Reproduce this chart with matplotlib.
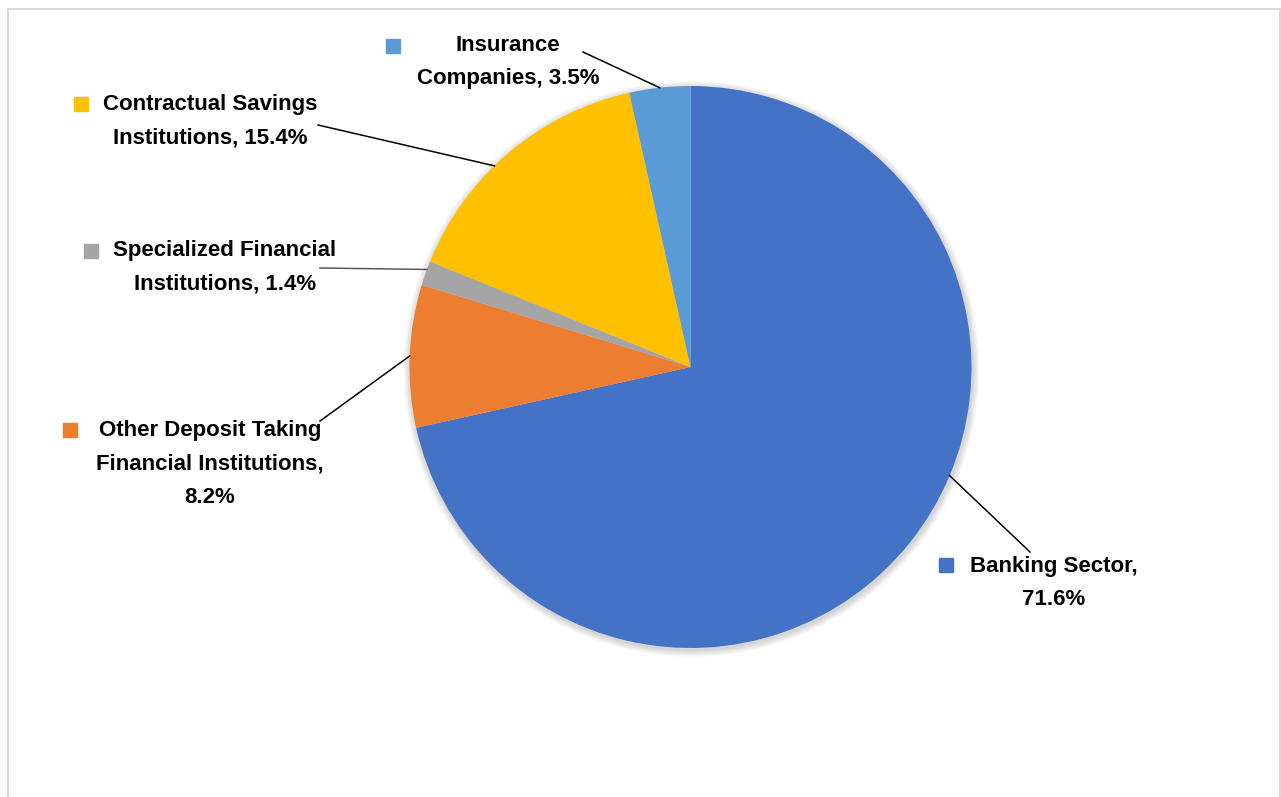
import numpy as np
import matplotlib
matplotlib.use('Agg')
import matplotlib.pyplot as plt
from matplotlib.patches import Circle, Rectangle

# data
categories = ['Banking Sector', 'Other Deposit Taking\nFinancial Institutions',
              'Specialized Financial\nInstitutions', 'Contractual Savings\nInstitutions',
              'Insurance\nCompanies']
shares = [71.6, 8.2, 1.4, 15.4, 3.5]
label_texts = ['Banking Sector,\n71.6%', 'Other Deposit Taking\nFinancial Institutions,\n8.2%',
               'Specialized Financial\nInstitutions, 1.4%', 'Contractual Savings\nInstitutions, 15.4%',
               'Insurance\nCompanies, 3.5%']
colors = ['#4472C4', '#ED7D31', '#A5A5A5', '#FFC000', '#5B9BD5']

W, H = 1281, 797
CX, CY, R = 690.5, 367, 281

# label layout in pixel coords (top-left origin):
# text centre, marker pos, leader start, angle nudge on the wedge
layout = [
    dict(text=(1054, 583), marker=(946, 565), start=(1030, 552), nudge=16),
    dict(text=(210, 464), marker=(70, 430), start=(320, 421), nudge=0),
    dict(text=(225, 267), marker=(91, 251), start=(320, 268), nudge=-0.8),
    dict(text=(210, 121), marker=(81, 104), start=(318, 125), nudge=4),
    dict(text=(508, 62), marker=(393, 46), start=(583, 52), nudge=0),
]
line_colors = ['black', 'black', '#595959', 'black', 'black']


def Y(y):
    return H - y


fig = plt.figure(figsize=(W / 100, H / 100), dpi=100)
ax = fig.add_axes([0, 0, 1, 1])

# soft shadow round the pie
for k in range(1, 8):
    ax.add_patch(Circle((CX + 1, Y(CY) - 2), R + k, color='black', alpha=0.025, lw=0, zorder=0))

wedges, _ = ax.pie(shares, colors=colors, startangle=90, counterclock=False,
                   center=(CX, Y(CY)), radius=R, frame=True,
                   wedgeprops=dict(linewidth=0))
for w in wedges:
    w.set_zorder(1)
ax.set_xlim(0, W)
ax.set_ylim(0, H)
ax.set_aspect('equal')
ax.axis('off')

for w, lay, txt, col, lc in zip(wedges, layout, label_texts, colors, line_colors):
    ang = np.deg2rad((w.theta1 + w.theta2) / 2 + lay['nudge'])
    ex, ey = CX + R * np.cos(ang), Y(CY) + R * np.sin(ang)
    sx, sy = lay['start']
    ax.plot([sx, ex], [Y(sy), ey], color=lc, lw=1.1, zorder=3)
    ax.text(lay['text'][0], Y(lay['text'][1]), txt, ha='center', va='center',
            multialignment='center', fontsize=16, fontweight='bold',
            family=['Liberation Sans', 'DejaVu Sans'], linespacing=1.78, color='black', zorder=4)
    mx, my = lay['marker']
    ax.plot(mx, Y(my), marker='s', markersize=9.5, color=col, lw=0, zorder=4)

# light border of the chart area
fig.patches.append(Rectangle((7.5 / W, -0.05), (1279.5 - 7.5) / W, 1.05 - 8.5 / H,
                             transform=fig.transFigure, fill=False,
                             edgecolor='#D9D9D9', lw=1.5))

fig.savefig('out.png', dpi=100)
